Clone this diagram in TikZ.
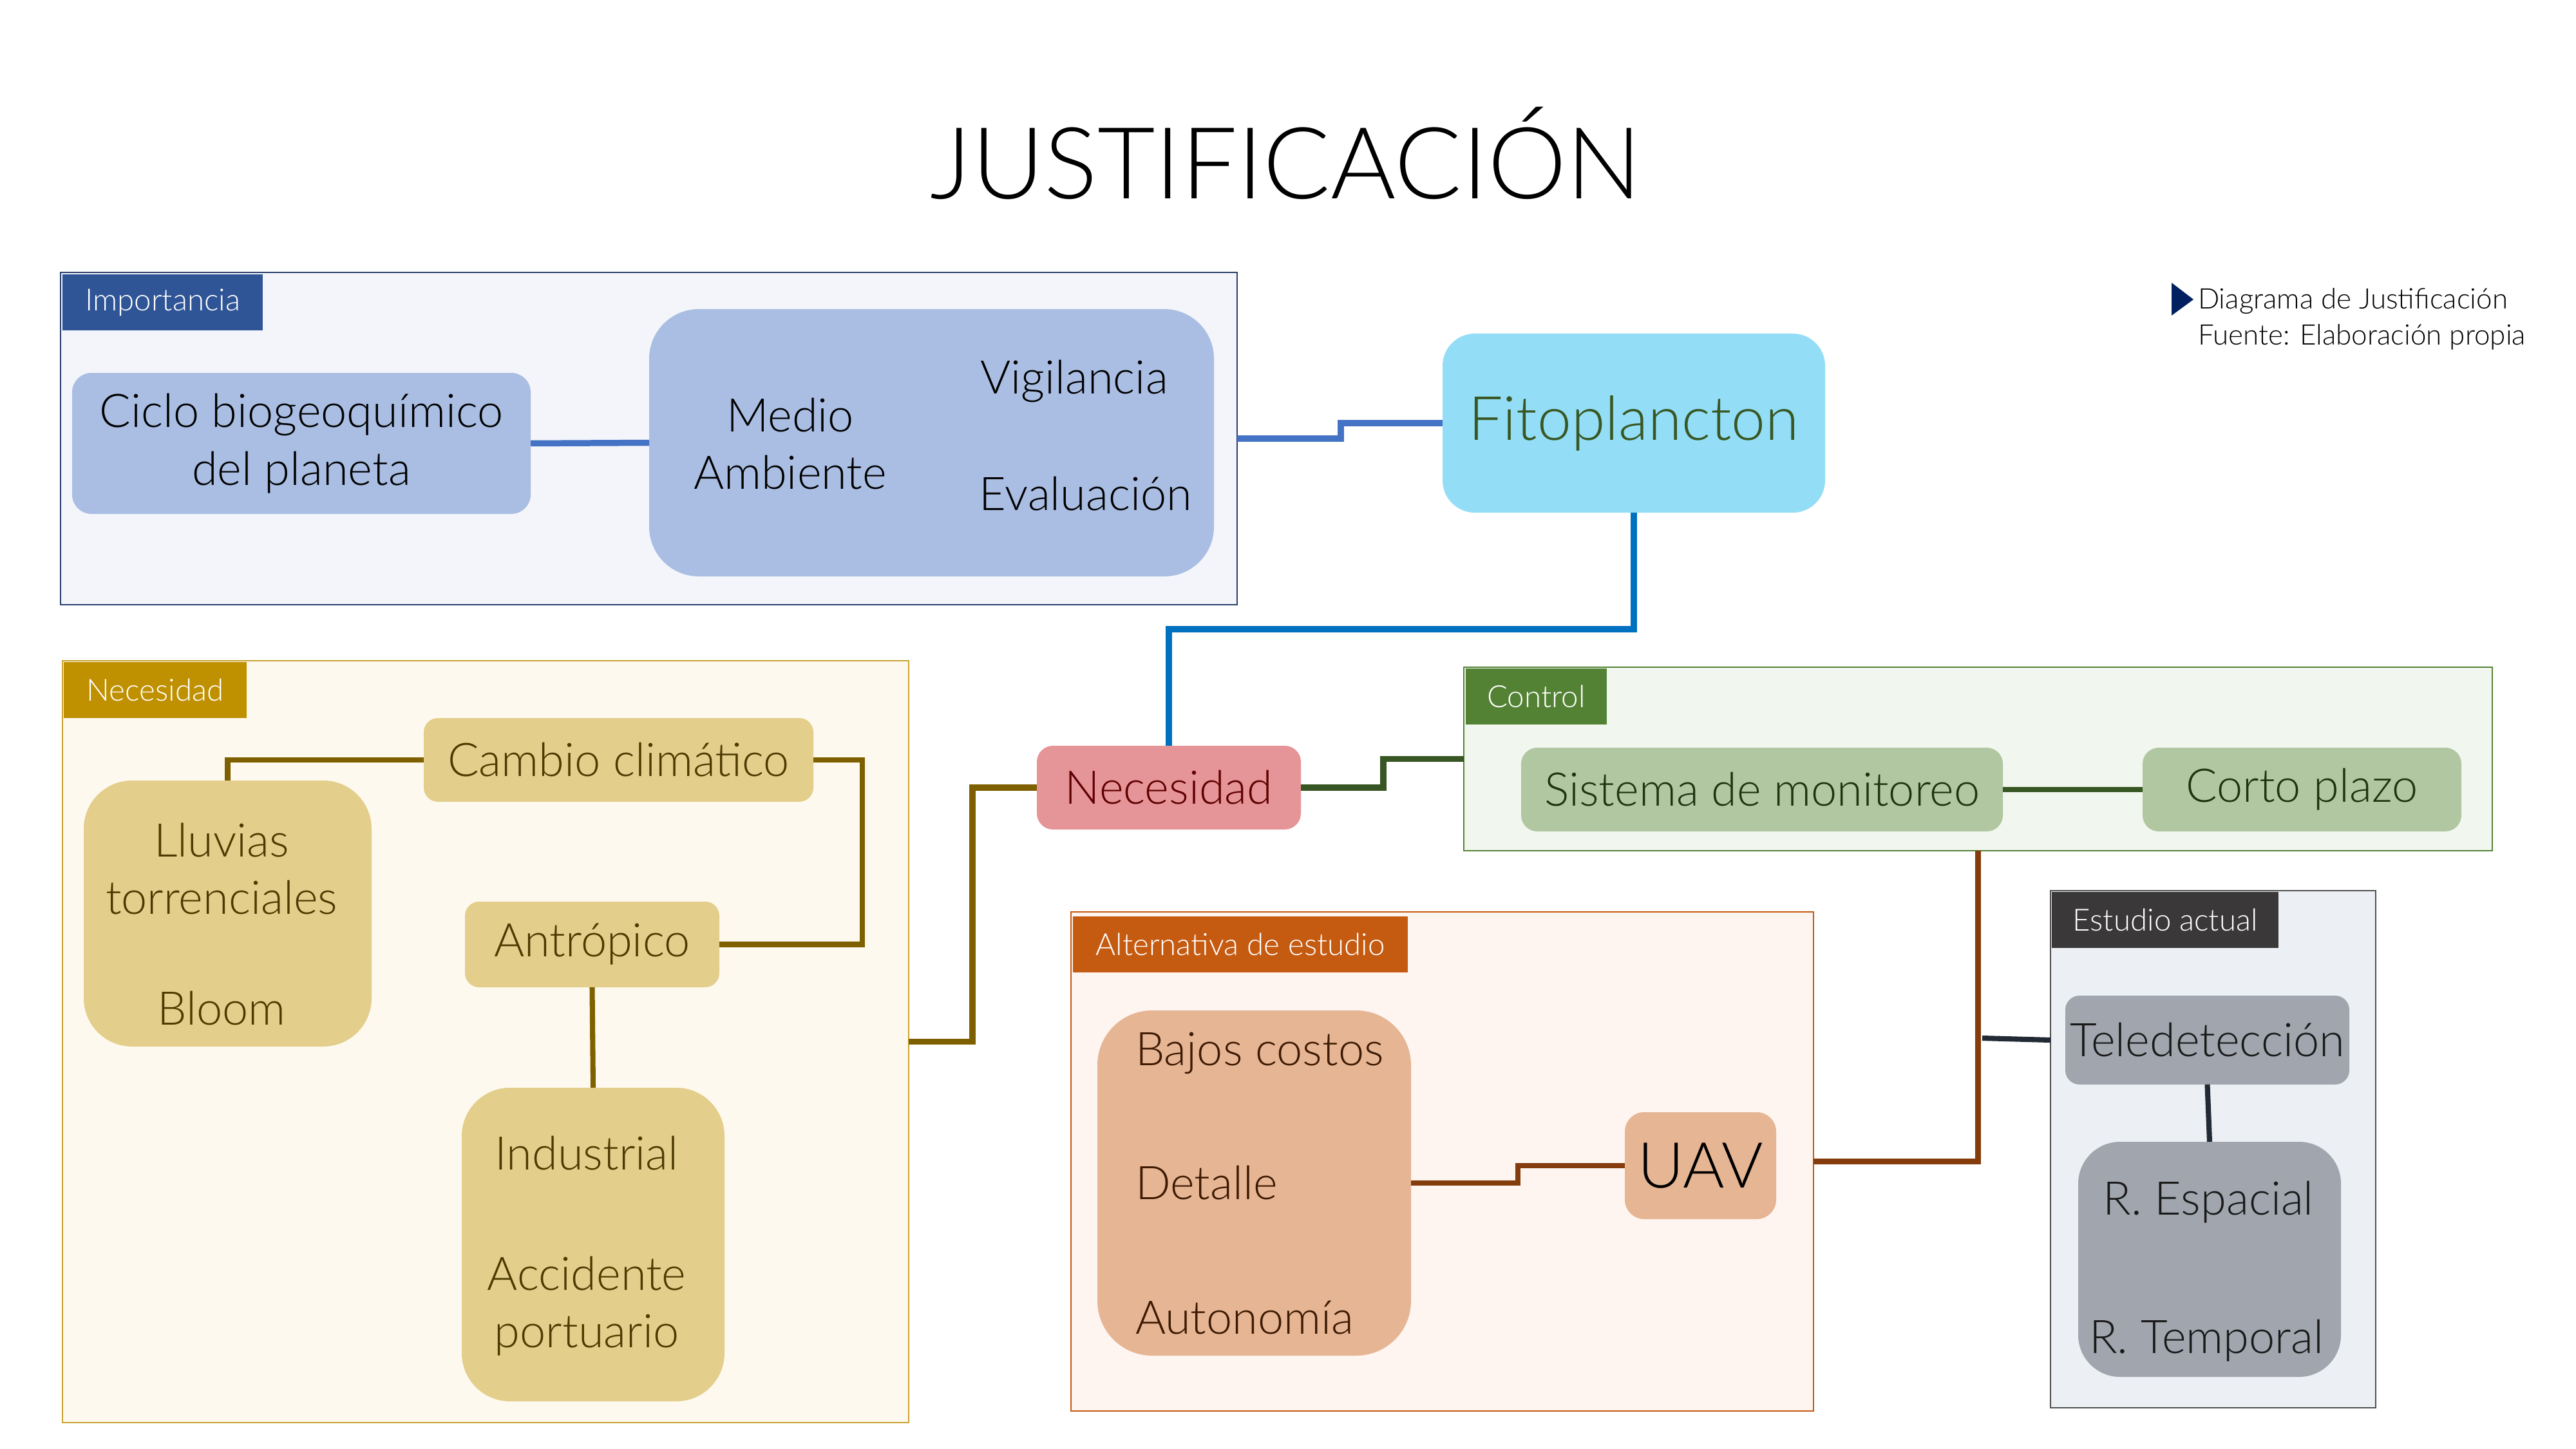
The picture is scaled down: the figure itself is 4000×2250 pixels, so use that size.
\documentclass[tikz,border=0pt]{standalone}
\usepackage{fontspec}
\setmainfont{Lato Light}
\usetikzlibrary{fit}
\definecolor{impL}{HTML}{2F5597}
\definecolor{impB}{HTML}{2A3F6E}
\definecolor{impF}{HTML}{F3F5FA}
\definecolor{blueN}{HTML}{AABEE3}
\definecolor{blueC}{HTML}{4472C4}
\definecolor{fitoF}{HTML}{93DEF6}
\definecolor{fitoT}{HTML}{385723}
\definecolor{fitoC}{HTML}{0070C0}
\definecolor{necF}{HTML}{E59497}
\definecolor{necT}{HTML}{600000}
\definecolor{ctrlL}{HTML}{548235}
\definecolor{ctrlF}{HTML}{F1F6EE}
\definecolor{ctrlN}{HTML}{B0C7A1}
\definecolor{ctrlC}{HTML}{375623}
\definecolor{ctrlT}{HTML}{1F3312}
\definecolor{goldL}{HTML}{BF9000}
\definecolor{goldB}{HTML}{C9A431}
\definecolor{goldF}{HTML}{FEF9EE}
\definecolor{goldN}{HTML}{E3CE8B}
\definecolor{goldC}{HTML}{7F6000}
\definecolor{goldT}{HTML}{4D3A00}
\definecolor{altL}{HTML}{C55A11}
\definecolor{altF}{HTML}{FEF5F1}
\definecolor{altN}{HTML}{E6B594}
\definecolor{altC}{HTML}{843C0C}
\definecolor{altT}{HTML}{3D1A02}
\definecolor{estL}{HTML}{3A3838}
\definecolor{estB}{HTML}{505050}
\definecolor{estF}{HTML}{ECEFF3}
\definecolor{estN}{HTML}{A0A5AE}
\definecolor{estC}{HTML}{222A35}
\definecolor{navy}{HTML}{002060}
\begin{document}
\begin{tikzpicture}[x=0.1mm,y=-0.1mm,
  every node/.style={inner sep=0pt, outer sep=0pt},
  cont/.style={draw=#1, line width=0.8pt},
  lab/.style={fill=#1},
  labt/.style={text=white, font=\fontsize{13.5}{16}\selectfont},
  nbox/.style={fill=#1},
  ntext/.style={align=center, font=\fontsize{20.5}{25.4}\selectfont},
  conn/.style={draw=#1, line width=2.7pt},
  iconn/.style={draw=#1, line width=2.3pt}]
\fill[white] (0,0) rectangle (4000,2250);
\useasboundingbox (0,0) rectangle (4000,2250);

% title and legend
\node[font=\fontsize{44}{50}\selectfont] (title) at (1997,238) {JUSTIFICACIÓN};
\fill[navy] (3372,439) -- (3406,465) -- (3372,490) -- cycle;
\node[anchor=west, align=left, font=\fontsize{12.5}{16}\selectfont] (leg) at (3413,495) {Diagrama de Justificación\\Fuente: Elaboración propia};

% Importancia
\node[cont=impB, fill=impF, fit={(94,423) (1921,939)}] (imp) {};
\node[lab=impL, fit={(97,426) (408,513)}, label={[labt]center:Importancia}] (impl) {};
\node[nbox=blueN, rounded corners=3mm, fit={(112,579) (824,798)}, label={[ntext]center:Ciclo biogeoquímico\\del planeta}] (ciclo) {};
\node[nbox=blueN, rounded corners=7.7mm, fit={(1008,480) (1885,895)}] (medio) {};
\node[ntext] (ma) at (1227,689) {Medio\\Ambiente};
\node[ntext] (vig) at (1668,592) {Vigilancia};
\node[ntext] (eva) at (1686,767) {Evaluación};

% Fitoplancton
\node[nbox=fitoF, rounded corners=5mm, fit={(2240,518) (2834,796)}, label={[text=fitoT, font=\fontsize{27}{30}\selectfont]center:Fitoplancton}] (fito) {};

% Necesidad (central)
\node[nbox=necF, rounded corners=2.5mm, fit={(1610,1158) (2020,1288)}, label={[ntext, text=necT]center:Necesidad}] (nec) {};

% Necesidad container
\node[cont=goldB, fill=goldF, fit={(97,1026) (1411,2209)}] (necbox) {};
\node[lab=goldL, fit={(99,1028) (383,1115)}, label={[labt]center:Necesidad}] (necl) {};
\node[nbox=goldN, rounded corners=2.2mm, fit={(658,1115) (1263,1245)}, label={[ntext, text=goldT]center:Cambio climático}] (cambio) {};
\node[nbox=goldN, rounded corners=7.5mm, fit={(130,1212) (577,1625)}] (lluvias) {};
\node[ntext, text=goldT] (lluviast) at (344,1349) {Lluvias\\torrenciales};
\node[ntext, text=goldT] (bloom) at (344,1566) {Bloom};
\node[nbox=goldN, rounded corners=2.2mm, fit={(722,1400) (1117,1533)}, label={[ntext, text=goldT]center:Antrópico}] (antro) {};
\node[nbox=goldN, rounded corners=7.5mm, fit={(717,1689) (1125,2176)}] (indus) {};
\node[ntext, text=goldT] (indust) at (911,1791) {Industrial};
\node[ntext, text=goldT] (accid) at (911,2028) {Accidente\\portuario};

% Control container
\node[cont=ctrlL, fill=ctrlF, fit={(2273,1036) (3870,1321)}] (ctrl) {};
\node[lab=ctrlL, fit={(2276,1038) (2495,1125)}, label={[labt]center:Control}] (ctrll) {};
\node[nbox=ctrlN, rounded corners=2.5mm, fit={(2362,1161) (3110,1291)}, label={[ntext, text=ctrlT]center:Sistema de monitoreo}] (sist) {};
\node[nbox=ctrlN, rounded corners=2.5mm, fit={(3327,1161) (3822,1291)}, label={[ntext, text=ctrlT]center:Corto plazo}] (corto) {};

% Alternativa container
\node[cont=altL, fill=altF, fit={(1663,1416) (2816,2191)}] (alt) {};
\node[lab=altL, fit={(1666,1423) (2186,1510)}, label={[labt]center:Alternativa de estudio}] (altl) {};
\node[nbox=altN, rounded corners=8.5mm, fit={(1704,1569) (2191,2105)}] (bajos) {};
\node[ntext, text=altT, anchor=west] (bajost) at (1763,1635) {Bajos costos};
\node[ntext, text=altT, anchor=west] (detalle) at (1763,1837) {Detalle};
\node[ntext, text=altT, anchor=west] (auton) at (1763,2046) {Autonomía};
\node[nbox=altN, rounded corners=3mm, fit={(2523,1727) (2758,1893)}, label={[font=\fontsize{28}{30}\selectfont]center:UAV}] (uav) {};

% Estudio actual container
\node[cont=estB, fill=estF, fit={(3184,1383) (3689,2186)}] (est) {};
\node[lab=estL, fit={(3186,1385) (3538,1472)}, label={[labt]center:Estudio actual}] (estl) {};
\node[nbox=estN, rounded corners=2.2mm, fit={(3207,1546) (3648,1684)}, label={[ntext, text=black!90]center:Teledetección}] (tele) {};
\node[nbox=estN, rounded corners=6.5mm, fit={(3227,1773) (3635,2138)}] (resp) {};
\node[ntext, text=black!90] (respt) at (3429,1867) {R. Espacial};
\node[ntext, text=black!90] (rtemp) at (3426,2082) {R. Temporal};

% connectors
\draw[conn=blueC] (ciclo.east) -- (medio.west);
\draw[conn=blueC] (imp.east) -- ++(161,0) |- (fito.west);
\draw[conn=fitoC] (fito.south) -- ++(0,181) -| (nec.north);
\draw[conn=ctrlC] (nec.east) -- ++(128,0) |- (ctrl.west);
\draw[conn=goldC] (necbox.east) -- ++(99,0) |- (nec.west);
\draw[iconn=goldC] (cambio.west) -| (lluvias.north);
\draw[iconn=goldC] (cambio.east) -- ++(76,0) |- (antro.east);
\draw[iconn=goldC] (antro.south) -- (indus.north);
\draw[iconn=ctrlC] (sist.east) -- (corto.west);
\draw[iconn=altC] (bajos.east) -- ++(166,0) |- (uav.west);
\draw[iconn=altC] (ctrl.south) |- (alt.east);
\coordinate (junc) at (3078,1612);
\draw[iconn=estC] (junc) -- (tele.west -| est.west);
\draw[iconn=estC] (tele.south) -- (resp.north);
\end{tikzpicture}
\end{document}
